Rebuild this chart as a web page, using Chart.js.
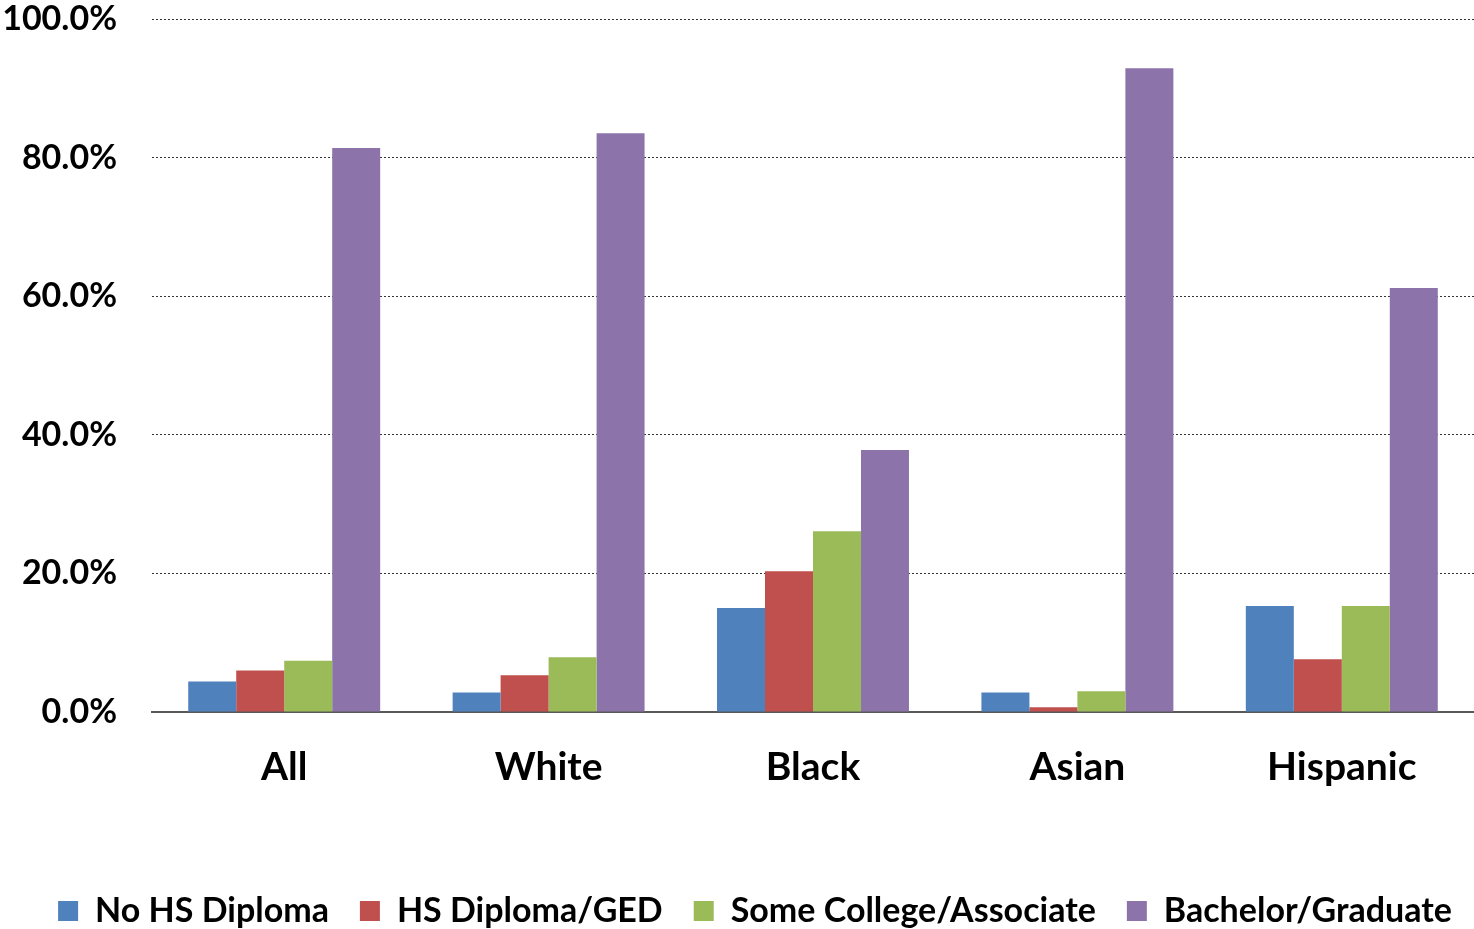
<!DOCTYPE html>
<html>
<head>
<meta charset="utf-8">
<script src="https://cdn.jsdelivr.net/npm/chart.js@4/dist/chart.umd.min.js"></script>
<style>
  html, body { margin: 0; padding: 0; background: #ffffff; }
  #wrap { width: 1474px; height: 929px; }
</style>
</head>
<body>
<div id="wrap"><canvas id="c" width="1474" height="929"></canvas></div>
<script>
const categories = ["All", "White", "Black", "Asian", "Hispanic"];
const seriesNames = ["No HS Diploma", "HS Diploma/GED", "Some College/Associate", "Bachelor/Graduate"];
const noHsDiploma = [4.4, 2.8, 15.0, 2.8, 15.3];
const hsDiplomaGed = [6.0, 5.3, 20.3, 0.7, 7.6];
const someCollege = [7.4, 7.9, 26.1, 3.0, 15.3];
const bachelorGrad = [81.4, 83.5, 37.8, 92.9, 61.2];
const yTicks = [0, 20, 40, 60, 80, 100];
const colors = ["#4F81BD", "#C0504D", "#9BBB59", "#8C74AA"];

const FONT = "Lato, 'Open Sans', sans-serif";
const seriesData = [noHsDiploma, hsDiplomaGed, someCollege, bachelorGrad];

const legendShift = {
  id: 'legendShift',
  beforeDraw(chart) {
    if (chart.legend) {
      chart.legend.left = 18;
      chart.legend.right = chart.width + 18;
    }
  }
};

new Chart(document.getElementById('c'), {
  type: 'bar',
  data: {
    labels: categories,
    datasets: seriesNames.map((n, i) => ({
      label: n,
      data: seriesData[i],
      backgroundColor: colors[i],
      borderWidth: 0,
      categoryPercentage: 0.726,
      barPercentage: 1.0
    }))
  },
  plugins: [legendShift],
  options: {
    responsive: false,
    animation: false,
    devicePixelRatio: 1,
    layout: { padding: { left: 0, right: 0, top: 0, bottom: -9 } },
    plugins: {
      tooltip: { enabled: false },
      legend: {
        position: 'bottom',
        labels: {
          font: { family: FONT, size: 34, weight: 'bold' },
          color: '#000000',
          boxWidth: 20,
          boxHeight: 20,
          padding: 31
        }
      }
    },
    scales: {
      x: {
        grid: { display: false },
        border: { display: true, color: '#595959', width: 2 },
        ticks: {
          font: { family: FONT, size: 39, weight: 'bold' },
          color: '#000000',
          padding: 24
        },
        afterFit: (s) => { s.height = 151; }
      },
      y: {
        min: 0,
        max: 100,
        afterBuildTicks: (s) => { s.ticks = yTicks.map(v => ({ value: v })); },
        grid: {
          drawTicks: false,
          color: (ctx) => (ctx.tick && ctx.tick.value === 0) ? 'rgba(0,0,0,0)' : '#333333',
          lineWidth: 1
        },
        border: { display: false, dash: [2, 2] },
        ticks: {
          font: { family: FONT, size: 34, weight: 'bold' },
          color: '#000000',
          padding: 35,
          callback: (v) => Number(v).toFixed(1) + '%'
        },
        afterFit: (s) => { s.width = 152; s.paddingTop = 19; s.paddingBottom = 0; }
      }
    }
  }
});
</script>
</body>
</html>
